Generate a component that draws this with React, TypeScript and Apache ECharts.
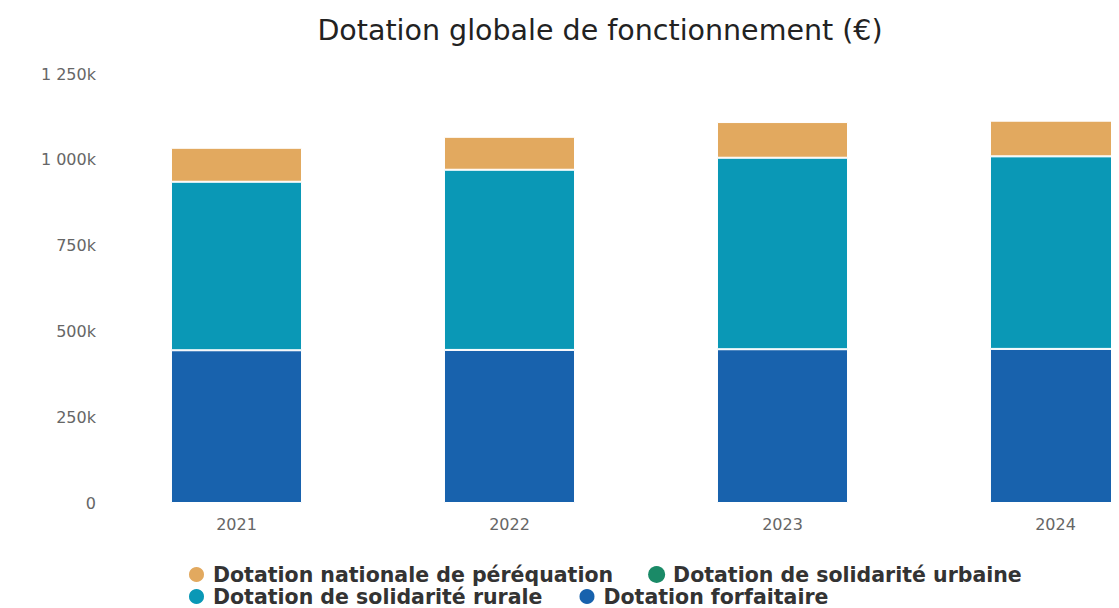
import React, { useEffect, useRef } from "react";
import * as echarts from "echarts";

const years = ["2021", "2022", "2023", "2024"];
const forfaitaire = [445000, 446000, 448000, 449000];
const solidariteRurale = [491000, 525000, 558000, 561000];
const solidariteUrbaine = [0, 0, 0, 0];
const perequation = [99000, 96000, 104000, 104000];
const yTicks = [0, 250000, 500000, 750000, 1000000, 1250000];
const legendRow1 = ["Dotation nationale de péréquation", "Dotation de solidarité urbaine"];
const legendRow2 = ["Dotation de solidarité rurale", "Dotation forfaitaire"];

const fmt = (v: number) => {
  if (v === 0) return "0";
  const k = Math.round(v / 1000);
  const s = String(k).replace(/\B(?=(\d{3})+(?!\d))/g, " ");
  return s + "k";
};

export default function App() {
  const ref = useRef<HTMLDivElement>(null);
  useEffect(() => {
    const chart = echarts.init(ref.current!, null, { renderer: "svg" });
    const border = { borderColor: "#ffffff", borderWidth: 1 };
    const legendBase = {
      left: 179,
      padding: 0,
      itemGap: 35,
      itemWidth: 17,
      itemHeight: 17,
      icon: "circle",
      textStyle: {
        fontFamily: "DejaVu Sans",
        fontSize: 20.5,
        fontWeight: "bold",
        color: "#333333",
        padding: [0, 0, 0, 3],
      },
    };
    chart.setOption({
      animation: false,
      backgroundColor: "#ffffff",
      title: {
        text: "Dotation globale de fonctionnement (€)",
        left: 587,
        textAlign: "center",
        top: 3,
        textStyle: {
          fontFamily: "DejaVu Sans",
          fontSize: 28.5,
          fontWeight: "normal",
          color: "#222222",
        },
      },
      grid: { left: 92, top: 66, right: 0, height: 429, containLabel: false },
      xAxis: {
        type: "category",
        data: years,
        axisLine: { show: false },
        axisTick: { show: false },
        axisLabel: {
          margin: 13,
          fontFamily: "DejaVu Sans",
          fontSize: 16,
          color: "#666666",
        },
      },
      yAxis: {
        type: "value",
        min: yTicks[0],
        max: yTicks[yTicks.length - 1],
        interval: 250000,
        splitLine: { show: false },
        axisLine: { show: false },
        axisTick: { show: false },
        axisLabel: {
          margin: 4,
          fontFamily: "DejaVu Sans",
          fontSize: 16,
          color: "#666666",
          formatter: (v: number) => fmt(v),
        },
      },
      legend: [
        { ...legendBase, data: legendRow1, top: 556 },
        { ...legendBase, data: legendRow2, top: 578 },
      ],
      series: [
        {
          name: "Dotation forfaitaire",
          type: "bar",
          stack: "dgf",
          barWidth: "48%",
          data: forfaitaire,
          itemStyle: { color: "#1862ad", ...border },
        },
        {
          name: "Dotation de solidarité rurale",
          type: "bar",
          stack: "dgf",
          data: solidariteRurale,
          itemStyle: { color: "#0a98b6", ...border },
        },
        {
          name: "Dotation de solidarité urbaine",
          type: "bar",
          stack: "dgf",
          data: solidariteUrbaine,
          itemStyle: { color: "#1a8a67", borderWidth: 0 },
        },
        {
          name: "Dotation nationale de péréquation",
          type: "bar",
          stack: "dgf",
          data: perequation,
          itemStyle: { color: "#e2a95f", ...border },
        },
      ],
    });
    return () => chart.dispose();
  }, []);
  return (
    <div style={{ width: 1111, height: 600, overflow: "hidden" }}>
      <div ref={ref} style={{ width: 1184, height: 600 }} />
    </div>
  );
}
